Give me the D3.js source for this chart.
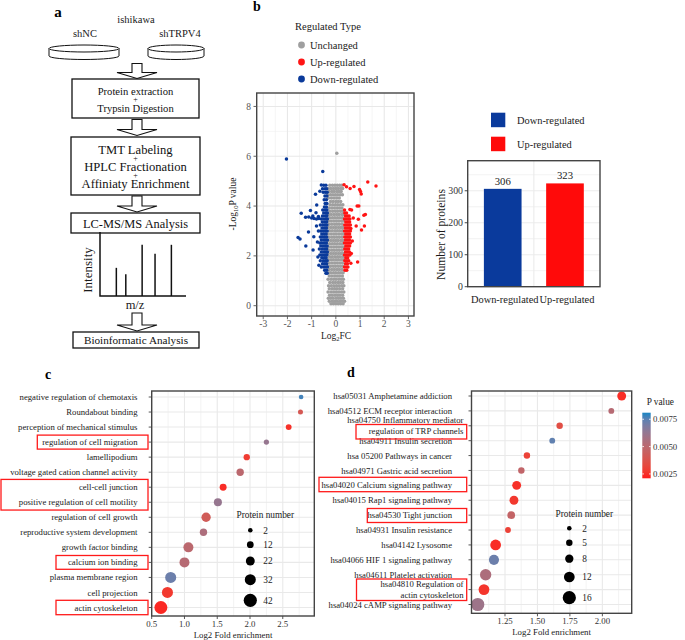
<!DOCTYPE html>
<html><head><meta charset="utf-8">
<script src="https://cdn.jsdelivr.net/npm/d3@7"></script>
<style>
body{margin:0;background:#fff}
svg{display:block}
text{font-family:"Liberation Serif","Times New Roman",serif}
</style>
</head><body>
<script>
// ---------------- DATA ----------------
const cellLine = "ishikawa";
const workflowSamples = ["shNC", "shTRPV4"];
const workflowSteps = [
  ["Protein extraction", "+", "Trypsin Digestion"],
  ["TMT Labeling", "+", "HPLC Fractionation", "+", "Affiniaty Enrichment"],
  ["LC-MS/MS Analysis"],
  ["Bioinformatic Analysis"]
];
const spectrumMz = [1.9, 3.0, 4.9, 6.4, 8.3];
const spectrumIntensity = [4.4, 3.4, 8.0, 6.6, 8.0];

// volcano: rows of [ -log10 p , [log2FC ...] ]
const grayRows = [
  [0.08,[-0.2,-0.1,0.0,0.1,0.2,0.3]],
  [0.18,[-0.27,-0.15,-0.05,0.05,0.16,0.26,0.36]],
  [0.3,[-0.31,-0.21,-0.11,0.01,0.11,0.21,0.31]],
  [0.42,[-0.26,-0.15,-0.04,0.07,0.17,0.28]],
  [0.55,[-0.32,-0.2,-0.09,0.02,0.12,0.23,0.33]],
  [0.68,[-0.27,-0.15,-0.05,0.05,0.16,0.28]],
  [0.8,[-0.3,-0.19,-0.08,0.03,0.13,0.24,0.33]],
  [0.93,[-0.25,-0.13,-0.02,0.09,0.19,0.29]],
  [1.06,[-0.32,-0.2,-0.09,0.01,0.12,0.22,0.31]],
  [1.19,[-0.27,-0.16,-0.05,0.06,0.16,0.27]],
  [1.32,[-0.3,-0.21,-0.1,0.0,0.11,0.21,0.3]],
  [1.45,[-0.28,-0.17,-0.06,0.05,0.15,0.26]],
  [1.58,[-0.31,-0.22,-0.11,-0.01,0.1,0.2,0.3]],
  [1.71,[-0.27,-0.16,-0.05,0.06,0.17,0.27]],
  [1.84,[-0.31,-0.2,-0.1,0.01,0.11,0.22,0.31]],
  [1.97,[-0.26,-0.15,-0.04,0.07,0.17,0.28]],
  [2.1,[-0.32,-0.21,-0.1,0.0,0.11,0.21,0.3]],
  [2.23,[-0.27,-0.16,-0.06,0.05,0.15,0.26]],
  [2.36,[-0.31,-0.2,-0.09,0.02,0.12,0.22,0.31]],
  [2.49,[-0.26,-0.15,-0.05,0.06,0.17,0.27]],
  [2.62,[-0.32,-0.21,-0.1,0.0,0.1,0.21,0.3]],
  [2.75,[-0.27,-0.16,-0.06,0.05,0.15,0.26]],
  [2.88,[-0.31,-0.2,-0.09,0.01,0.12,0.22,0.31]],
  [3.01,[-0.26,-0.15,-0.04,0.06,0.16,0.27]],
  [3.14,[-0.31,-0.21,-0.1,0.0,0.11,0.21,0.3]],
  [3.27,[-0.27,-0.16,-0.05,0.05,0.15,0.26]],
  [3.4,[-0.3,-0.2,-0.09,0.02,0.12,0.23,0.31]],
  [3.53,[-0.25,-0.14,-0.04,0.07,0.17,0.27]],
  [3.66,[-0.3,-0.19,-0.08,0.03,0.13,0.24,0.3]],
  [3.79,[-0.24,-0.13,-0.02,0.08,0.19,0.28]],
  [3.92,[-0.28,-0.17,-0.06,0.05,0.15,0.25]],
  [4.05,[-0.24,-0.13,-0.02,0.08,0.19,0.29]],
  [4.18,[-0.22,-0.11,0.0,0.1,0.2]],
  [4.32,[-0.3,-0.18,-0.07,0.04,0.14]],
  [4.45,[-0.33,-0.22,-0.12,-0.02,0.08,0.18,0.27]],
  [4.58,[-0.28,-0.17,-0.07,0.04,0.13,0.22]],
  [4.71,[-0.31,-0.21,-0.1,0.0,0.1,0.2,0.28]],
  [4.84,[-0.25,-0.14,-0.04,0.06,0.16,0.25]],
  [6.12,[0.04]]
];
const blueRows = [
  [1.3,[-0.41,-0.36]],
  [1.42,[-0.46,-0.38]],
  [1.55,[-0.6,-0.5,-0.42,-0.35]],
  [1.68,[-0.55,-0.46,-0.38]],
  [1.8,[-0.64,-0.52,-0.43,-0.36]],
  [1.92,[-0.58,-0.48,-0.4]],
  [2.04,[-0.66,-0.55,-0.45,-0.37]],
  [2.16,[-0.6,-0.5,-0.42,-0.35]],
  [2.28,[-0.68,-0.56,-0.46,-0.38]],
  [2.4,[-0.62,-0.52,-0.43,-0.36]],
  [2.52,[-0.66,-0.57,-0.47,-0.39]],
  [2.64,[-0.6,-0.5,-0.42,-0.35]],
  [2.76,[-0.64,-0.55,-0.46,-0.38]],
  [2.88,[-0.58,-0.49,-0.4]],
  [3.0,[-0.62,-0.52,-0.43,-0.36]],
  [3.12,[-0.57,-0.47,-0.39]],
  [3.24,[-0.64,-0.53,-0.44,-0.37]],
  [3.36,[-0.56,-0.46,-0.38]],
  [3.48,[-0.6,-0.5,-0.41,-0.35]],
  [3.6,[-0.55,-0.44,-0.37]],
  [3.72,[-0.5,-0.41,-0.35]],
  [3.84,[-0.54,-0.44,-0.37]],
  [3.96,[-0.47,-0.39]],
  [4.1,[-0.44,-0.37]],
  [4.25,[-0.48,-0.39]],
  [4.4,[-0.45,-0.37]],
  [4.55,[-0.52,-0.43,-0.36]],
  [4.7,[-0.55,-0.45,-0.38]],
  [4.84,[-0.5,-0.41]]
];
const blueOutliers = [[-2.04,5.89],[-0.54,5.39],[-0.84,4.47],[-0.79,4.04],[-1.43,3.71],[-1.05,3.82],[-1.25,3.55],[-0.82,3.73],[-0.72,3.58],[-0.95,3.6],[-1.12,3.56],[-1.0,3.52],[-0.9,3.5],[-0.8,3.48],[-0.7,3.5],[-1.56,2.74],[-1.48,2.68],[-1.13,2.96],[-1.24,2.4],[-0.94,2.24],[-0.91,2.77],[-0.76,2.56],[-0.8,3.2],[-0.74,1.95],[-0.7,1.62],[-0.72,3.0],[-0.66,4.6],[-0.6,4.85]];
const redRows = [
  [1.42,[0.38,0.45]],
  [1.55,[0.36,0.44,0.5]],
  [1.68,[0.4,0.48]],
  [1.8,[0.37,0.45,0.53]],
  [1.92,[0.41,0.49]],
  [2.04,[0.36,0.44,0.52,0.58]],
  [2.16,[0.4,0.48,0.56]],
  [2.28,[0.37,0.45,0.53]],
  [2.4,[0.41,0.49,0.57]],
  [2.52,[0.36,0.44,0.52,0.6]],
  [2.64,[0.4,0.48,0.56]],
  [2.76,[0.37,0.45,0.53,0.6]],
  [2.88,[0.41,0.49,0.57]],
  [3.0,[0.36,0.44,0.52,0.6]],
  [3.12,[0.4,0.48,0.56]],
  [3.24,[0.37,0.45,0.53,0.6]],
  [3.36,[0.41,0.49,0.57]],
  [3.48,[0.36,0.44,0.52,0.58]],
  [3.6,[0.4,0.48,0.55]],
  [3.72,[0.37,0.44]],
  [3.84,[0.36]]
];
const redOutliers = [[1.32,4.97],[1.66,4.81],[0.34,4.86],[0.44,4.78],[0.59,4.71],[0.75,4.79],[0.98,4.67],[1.05,4.48],[1.02,4.58],[0.88,4.0],[0.95,4.0],[0.65,3.84],[0.58,3.86],[1.16,3.63],[0.93,3.47],[0.84,3.2],[1.18,3.2],[1.06,3.04],[0.9,1.75],[1.22,3.66],[0.72,3.52],[0.68,2.6],[0.64,2.1],[0.62,1.7],[0.62,3.1]];
const regTypes = ["Unchanged", "Up-regulated", "Down-regulated"];
const volcanoXTicks = [-3,-2,-1,0,1,2,3];
const volcanoYTicks = [0,2,4,6,8];

const barCategories = ["Down-regulated", "Up-regulated"];
const barValues = [306, 323];
const barYTicks = [0, 100, 200, 300];

const goTerms = ["negative regulation of chemotaxis","Roundabout binding","perception of mechanical stimulus","regulation of cell migration","lamellipodium","voltage gated cation channel activity","cell-cell junction","positive regulation of cell motility","regulation of cell growth","reproductive system development","growth factor binding","calcium ion binding","plasma membrane region","cell projection","actin cytoskeleton"];
const goFold = [2.78,2.77,2.59,2.25,1.95,1.85,1.59,1.51,1.33,1.29,1.06,1.00,0.79,0.74,0.64];
const goCount = [2,4,8,5,10,15,13,18,24,15,27,27,32,32,41];
const goP = [0.0078,0.0040,0.0025,0.0062,0.0028,0.0050,0.0024,0.0062,0.0042,0.0055,0.0050,0.0052,0.0072,0.0027,0.0023];
const goHighlighted = [["regulation of cell migration"],["cell-cell junction","positive regulation of cell motility"],["calcium ion binding"],["actin cytoskeleton"]];
const goXTicks = [0.5,1.0,1.5,2.0,2.5];
const goSizeBreaks = [2,12,22,32,42];

const keggTerms = ["hsa05031 Amphetamine addiction","hsa04512 ECM receptor interaction","hsa04750 Inflammatory mediator\nregulation of TRP channels","hsa04911 Insulin secretion","hsa 05200 Pathways in cancer","hsa04971 Gastric acid secretion","hsa04020 Calcium signaling pathway","hsa04015 Rap1 signaling pathway","hsa04530 Tight junction","hsa04931 Insulin resistance","hsa04142 Lysosome","hsa04066 HIF 1 signaling pathway","hsa04611 Platelet activation","hsa04810 Regulation of\nactin cytoskeleton","hsa04024 cAMP signaling pathway"];
const keggFold = [2.149,2.069,1.671,1.614,1.419,1.376,1.340,1.319,1.298,1.273,1.178,1.165,1.101,1.088,1.040];
const keggCount = [9,4,5,4,5,5,9,9,7,4,12,11,13,12,16];
const keggP = [0.0024,0.0052,0.0035,0.0074,0.0030,0.0048,0.0025,0.0027,0.0047,0.0030,0.0024,0.0072,0.0055,0.0026,0.0060];
const keggXTicks = [1.25,1.5,1.75,2.0];
const keggSizeBreaks = [2,5,8,12,16];
const pValueBreaks = [0.0025,0.0050,0.0075];
const pValueLimits = [0.0021,0.0081];

// ---------------- DRAWING ----------------
const W = 685, H = 640;
const svg = d3.select("body").append("svg").attr("width", W).attr("height", H);
svg.append("rect").attr("width", W).attr("height", H).attr("fill", "#fff");

function txt(g, x, y, s, o = {}) {
  return g.append("text").attr("x", x).attr("y", y).attr("dy", "0.35em")
    .attr("text-anchor", o.anchor || "middle").attr("font-size", o.size || 10)
    .attr("font-weight", o.weight || "normal").attr("fill", o.fill || "#1a1a1a").text(s);
}
function vtxt(g, x, y, s, o = {}) {
  return g.append("text").attr("transform", `translate(${x},${y}) rotate(-90)`).attr("dy", "0.35em")
    .attr("text-anchor", "middle").attr("font-size", o.size || 10).attr("fill", o.fill || "#1a1a1a").text(s);
}
function line(g, x1, y1, x2, y2, c, w) {
  g.append("line").attr("x1", x1).attr("y1", y1).attr("x2", x2).attr("y2", y2).attr("stroke", c).attr("stroke-width", w);
}

// ===== Panel a =====
const pa = svg.append("g");
txt(pa, 58, 12, "a", {size: 15, weight: "bold", fill: "#000"});
txt(pa, 136, 19, cellLine, {size: 10.5});
const dishX = [{cx: 84, rx: 35}, {cx: 176, rx: 28}];
workflowSamples.forEach((s, i) => {
  const d = dishX[i];
  txt(pa, d.cx + (i === 0 ? 1 : 4), 33, s, {size: 10.5});
  pa.append("path").attr("d", `M${d.cx - d.rx},48.5 V56 A${d.rx},3.5 0 0 0 ${d.cx + d.rx},56 V48.5`)
    .attr("fill", "#fff").attr("stroke", "#111").attr("stroke-width", 1);
  pa.append("ellipse").attr("cx", d.cx).attr("cy", 48.5).attr("rx", d.rx).attr("ry", 3.5)
    .attr("fill", "#fff").attr("stroke", "#111").attr("stroke-width", 1);
});
function blockArrow(cx, y0, y1) {
  const sw = 5, hw = 20, hh = 6;
  pa.append("path").attr("d", `M${cx - sw},${y0}H${cx + sw}V${y1 - hh}H${cx + hw}L${cx},${y1}L${cx - hw},${y1 - hh}H${cx - sw}Z`)
    .attr("fill", "#fff").attr("stroke", "#111").attr("stroke-width", 1.1);
}
blockArrow(137, 63.5, 78.5);
blockArrow(137, 119.5, 135.5);
blockArrow(137, 196, 212);
blockArrow(137, 313, 331);
const boxLayout = [
  {x0: 72, x1: 199, y0: 79, y1: 118, ys: [91, 99.5, 108], fs: 10.6},
  {x0: 71, x1: 200, y0: 137, y1: 195, ys: [149.5, 158.3, 166.8, 175.2, 184], fs: 12.6},
  {x0: 71, x1: 200, y0: 213, y1: 233, ys: [223.5], fs: 12.4},
  {x0: 73, x1: 199, y0: 332, y1: 348, ys: [340], fs: 11.2}
];
workflowSteps.forEach((lines, i) => {
  const b = boxLayout[i];
  pa.append("rect").attr("x", b.x0).attr("y", b.y0).attr("width", b.x1 - b.x0).attr("height", b.y1 - b.y0)
    .attr("fill", "#fff").attr("stroke", "#111").attr("stroke-width", 1.3);
  lines.forEach((l, j) => txt(pa, (b.x0 + b.x1) / 2, b.ys[j], l, {size: l === "+" ? 8 : b.fs, fill: "#111"}));
});
// spectrum
const mzX = d3.scaleLinear().domain([0, 10]).range([100, 186]);
const intY = d3.scaleLinear().domain([0, 10]).range([296, 232]);
spectrumMz.forEach((m, i) => line(pa, mzX(m), intY(0), mzX(m), intY(spectrumIntensity[i]), "#111", 1.5));
pa.append("path").attr("d", `M${mzX(0)},${intY(10)}V${intY(0)}H${mzX(10)}`).attr("fill", "none").attr("stroke", "#111").attr("stroke-width", 1.5);
vtxt(pa, 87, 270, "Intensity", {size: 13});
txt(pa, 135, 305, "m/z", {size: 12.5});

// ===== Panel b: volcano =====
const pb = svg.append("g");
txt(pb, 257, 6, "b", {size: 14, weight: "bold", fill: "#000"});
const vColor = {"Unchanged": "#9f9f9f", "Up-regulated": "#ff1414", "Down-regulated": "#0a3a9a"};
txt(pb, 295, 26, "Regulated Type", {size: 10.5, anchor: "start"});
regTypes.forEach((t, i) => {
  pb.append("circle").attr("cx", 301.5).attr("cy", 45 + i * 17).attr("r", 3.4).attr("fill", vColor[t]);
  txt(pb, 310, 45 + i * 17, t, {size: 10.5, anchor: "start"});
});
const vx = d3.scaleLinear().domain([-3.27, 3.23]).range([256.7, 414]);
const vy = d3.scaleLinear().domain([-0.414, 8.54]).range([316, 93]);
const vGrid = pb.append("g");
[-2.5,-1.5,-0.5,0.5,1.5,2.5].forEach(v => line(vGrid, vx(v), 93, vx(v), 316, "#efefef", 0.6));
[1,3,5,7].forEach(v => line(vGrid, 256.7, vy(v), 414, vy(v), "#efefef", 0.6));
volcanoXTicks.forEach(v => line(vGrid, vx(v), 93, vx(v), 316, "#e8e8e8", 1.1));
volcanoYTicks.forEach(v => line(vGrid, 256.7, vy(v), 414, vy(v), "#e8e8e8", 1.1));
const volcanoPts = [];
grayRows.forEach(([y, xs]) => xs.forEach(x => volcanoPts.push({x, y, t: "Unchanged"})));
blueRows.forEach(([y, xs]) => xs.forEach(x => volcanoPts.push({x, y, t: "Down-regulated"})));
blueOutliers.forEach(([x, y]) => volcanoPts.push({x, y, t: "Down-regulated"}));
redRows.forEach(([y, xs]) => xs.forEach(x => volcanoPts.push({x, y, t: "Up-regulated"})));
redOutliers.forEach(([x, y]) => volcanoPts.push({x, y, t: "Up-regulated"}));
pb.append("g").selectAll("circle").data(volcanoPts).join("circle")
  .attr("cx", d => vx(d.x)).attr("cy", d => vy(d.y)).attr("r", 1.75).attr("fill", d => vColor[d.t]);
pb.append("rect").attr("x", 256.7).attr("y", 93).attr("width", 414 - 256.7).attr("height", 316 - 93)
  .attr("fill", "none").attr("stroke", "#444").attr("stroke-width", 1.4);
volcanoYTicks.forEach(v => { line(pb, 253.5, vy(v), 256.7, vy(v), "#555", 0.9); txt(pb, 251, vy(v), String(v), {size: 9.5, anchor: "end", fill: "#555"}); });
volcanoXTicks.forEach(v => { line(pb, vx(v), 316, vx(v), 319.2, "#555", 0.9); txt(pb, vx(v), 323.5, v < 0 ? "-" + Math.abs(v) : String(v), {size: 9.5, fill: "#555"}); });
{
  const t = pb.append("text").attr("transform", "translate(233,204) rotate(-90)").attr("dy", "0.35em")
    .attr("text-anchor", "middle").attr("font-size", 9.5).attr("fill", "#1a1a1a");
  t.append("tspan").text("-Log");
  t.append("tspan").attr("font-size", 6.5).attr("dy", 2).text("10");
  t.append("tspan").attr("dy", -2).text("P value");
  const t2 = pb.append("text").attr("x", 336).attr("y", 336).attr("dy", "0.35em")
    .attr("text-anchor", "middle").attr("font-size", 9.5).attr("fill", "#1a1a1a");
  t2.append("tspan").text("Log");
  t2.append("tspan").attr("font-size", 6.5).attr("dy", 2).text("2");
  t2.append("tspan").attr("dy", -2).text("FC");
}

// ===== Panel b: bar chart =====
const pbar = svg.append("g");
const barColor = {"Down-regulated": "#0a3a9c", "Up-regulated": "#ff0a0a"};
barCategories.forEach((c, i) => {
  pbar.append("rect").attr("x", 491).attr("y", 112.7 + i * 24).attr("width", 14.3).attr("height", 14.5).attr("fill", barColor[c]);
  txt(pbar, 517, 120.5 + i * 24, c, {size: 10.4, anchor: "start"});
});
const bx = d3.scaleBand().domain(barCategories).range([467.7, 600]).paddingInner(0.395).paddingOuter(0.26);
const by = d3.scaleLinear().domain([0, 394]).range([286.7, 160.7]);
[50,100,150,200,250,300,350].forEach(v => line(pbar, 467.7, by(v), 600, by(v), "#ececec", v % 100 === 0 ? 1.1 : 0.7));
line(pbar, (bx(barCategories[0]) + bx(barCategories[1]) + bx.bandwidth()) / 2, 160.7, (bx(barCategories[0]) + bx(barCategories[1]) + bx.bandwidth()) / 2, 286.7, "#ececec", 1.1);
pbar.selectAll("rect.bar").data(barCategories).join("rect").attr("class", "bar")
  .attr("x", d => bx(d)).attr("width", bx.bandwidth())
  .attr("y", (d, i) => by(barValues[i])).attr("height", (d, i) => by(0) - by(barValues[i]))
  .attr("fill", d => barColor[d]);
barCategories.forEach((c, i) => {
  txt(pbar, bx(c) + bx.bandwidth() / 2, by(barValues[i]) - 8, String(barValues[i]), {size: 10.7});
  txt(pbar, bx(c) + bx.bandwidth() / 2 + 2, 299, c, {size: 10.4});
});
pbar.append("rect").attr("x", 467.7).attr("y", 160.7).attr("width", 600 - 467.7).attr("height", 286.7 - 160.7)
  .attr("fill", "none").attr("stroke", "#444").attr("stroke-width", 1.4);
barYTicks.forEach(v => { line(pbar, 464.7, by(v), 467.7, by(v), "#333", 0.9); txt(pbar, 463, by(v), String(v), {size: 9.8, anchor: "end", fill: "#333"}); });
vtxt(pbar, 440.5, 234.5, "Number of proteins", {size: 11.6});

// ===== Dot plots c & d =====
const pColor = d3.scaleLinear().domain(pValueLimits).range(["#ff1c1c", "#1a86c4"]).interpolate(d3.interpolateLab);

function dotPanel(cfg) {
  const g = svg.append("g");
  const x = d3.scaleLinear().domain(cfg.xDomain).range([cfg.left, cfg.right]);
  const y = d3.scalePoint().domain(cfg.terms).range([cfg.yTop, cfg.yBot]);
  const r = d3.scaleLinear().domain(cfg.sizeDomain).range([2.3, 6.6]);
  cfg.minor.forEach(v => line(g, x(v), cfg.top, x(v), cfg.bottom, "#eeeeee", 0.7));
  cfg.ticks.forEach(v => line(g, x(v), cfg.top, x(v), cfg.bottom, "#e9e9e9", 1.1));
  cfg.terms.forEach(t => line(g, cfg.left, y(t), cfg.right, y(t), "#e9e9e9", 1.1));
  // size legend
  txt(g, cfg.legX + 15, cfg.legTitleY, "Protein number", {size: 9.3});
  cfg.sizeBreaks.forEach((b, i) => {
    g.append("circle").attr("cx", cfg.legX).attr("cy", cfg.legYs[i]).attr("r", r(b)).attr("fill", "#000");
    txt(g, cfg.legX + 13, cfg.legYs[i], String(b), {size: 9.3, anchor: "start"});
  });
  const pts = cfg.terms.map((t, i) => ({t, f: cfg.fold[i], n: cfg.count[i], p: cfg.p[i]}));
  g.append("g").selectAll("circle").data(pts).join("circle")
    .attr("cx", d => x(d.f)).attr("cy", d => y(d.t)).attr("r", d => r(d.n)).attr("fill", d => pColor(d.p));
  g.append("rect").attr("x", cfg.left).attr("y", cfg.top).attr("width", cfg.right - cfg.left).attr("height", cfg.bottom - cfg.top)
    .attr("fill", "none").attr("stroke", "#444").attr("stroke-width", 1.4);
  cfg.terms.forEach(t => {
    line(g, cfg.left - 3, y(t), cfg.left, y(t), "#444", 0.9);
    const lines = t.split("\n");
    if (lines.length === 1) txt(g, cfg.labelX, y(t), t, {size: 8.7, anchor: "end"});
    else lines.forEach((l, j) => txt(g, cfg.labelX2, y(t) + (j - 0.5) * 10.8, l, {size: 8.7, anchor: "end"}));
  });
  cfg.ticks.forEach(v => {
    line(g, x(v), cfg.bottom, x(v), cfg.bottom + 3, "#444", 0.9);
    txt(g, x(v), cfg.bottom + 7.5, cfg.fmt(v), {size: 8.8, fill: "#333"});
  });
  txt(g, (cfg.left + cfg.right) / 2, cfg.bottom + 18.5, "Log2 Fold enrichment", {size: 8.8, fill: "#222"});
  txt(g, cfg.letter[1], cfg.letter[2], cfg.letter[0], {size: 14, weight: "bold", fill: "#000"});
  // highlight boxes
  cfg.boxes.forEach(b => {
    const ys = b.terms.map(t => y(t));
    g.append("rect").attr("x", b.x0).attr("y", d3.min(ys) - b.pad).attr("width", b.x1 - b.x0)
      .attr("height", d3.max(ys) - d3.min(ys) + 2 * b.pad).attr("fill", "none").attr("stroke", "#ff1a1a").attr("stroke-width", 1.3);
  });
  return g;
}

dotPanel({
  terms: goTerms, fold: goFold, count: goCount, p: goP,
  xDomain: [0.5, 2.981], left: 151.7, right: 314.3, top: 391, bottom: 616,
  yTop: 397, yBot: 607.5, ticks: goXTicks, minor: [0.75, 1.25, 1.75, 2.25, 2.75],
  fmt: d3.format(".1f"), sizeDomain: [2, 42], sizeBreaks: goSizeBreaks,
  legX: 250.3, legTitleY: 515, legYs: [530.3, 544.7, 561, 579.7, 600.3],
  labelX: 137.5, labelX2: 137.5, letter: ["c", 48, 374],
  boxes: [
    {terms: goHighlighted[0], x0: 37.3, x1: 148, pad: 7},
    {terms: goHighlighted[1], x0: 1, x1: 148, pad: 7.8},
    {terms: goHighlighted[2], x0: 56, x1: 148, pad: 6.9},
    {terms: goHighlighted[3], x0: 56, x1: 148, pad: 7.2}
  ]
});

const pd = dotPanel({
  terms: keggTerms, fold: keggFold, count: keggCount, p: keggP,
  xDomain: [0.992, 2.226], left: 471.5, right: 631.7, top: 391, bottom: 613.3,
  yTop: 396, yBot: 604.5, ticks: keggXTicks, minor: [1.125, 1.375, 1.625, 1.875, 2.125],
  fmt: d3.format(".2f"), sizeDomain: [2, 16], sizeBreaks: keggSizeBreaks,
  legX: 569.3, legTitleY: 513.3, legYs: [528.3, 542.7, 558.7, 577, 597.7],
  labelX: 452, labelX2: 463.5, letter: ["d", 351, 372],
  boxes: []
});
// KEGG highlight boxes (annotations)
[[356, 424.5, 466.7, 439], [319, 477.3, 466.7, 491.7], [367.3, 508.5, 466.7, 522.5], [356.5, 579, 466.7, 600.5]].forEach(b => {
  pd.append("rect").attr("x", b[0]).attr("y", b[1]).attr("width", b[2] - b[0]).attr("height", b[3] - b[1])
    .attr("fill", "none").attr("stroke", "#ff1a1a").attr("stroke-width", 1.3);
});

// colour bar
const defs = svg.append("defs");
const grad = defs.append("linearGradient").attr("id", "pgrad").attr("x1", 0).attr("y1", 1).attr("x2", 0).attr("y2", 0);
d3.range(0, 1.0001, 0.1).forEach(t => {
  grad.append("stop").attr("offset", t).attr("stop-color", pColor(pValueLimits[0] + t * (pValueLimits[1] - pValueLimits[0])));
});
const cb = svg.append("g");
const cby = d3.scaleLinear().domain(pValueLimits).range([478.3, 412.7]);
txt(cb, 646.7, 401.7, "P value", {size: 9.3, anchor: "start"});
cb.append("rect").attr("x", 642.3).attr("y", 412.7).attr("width", 8.4).attr("height", 478.3 - 412.7).attr("fill", "url(#pgrad)");
pValueBreaks.forEach(v => {
  line(cb, 642.3, cby(v), 644, cby(v), "#fff", 0.8);
  line(cb, 649, cby(v), 650.7, cby(v), "#fff", 0.8);
  txt(cb, 653, cby(v), d3.format(".4f")(v), {size: 8.8, anchor: "start", fill: "#333"});
});
</script>
</body></html>
